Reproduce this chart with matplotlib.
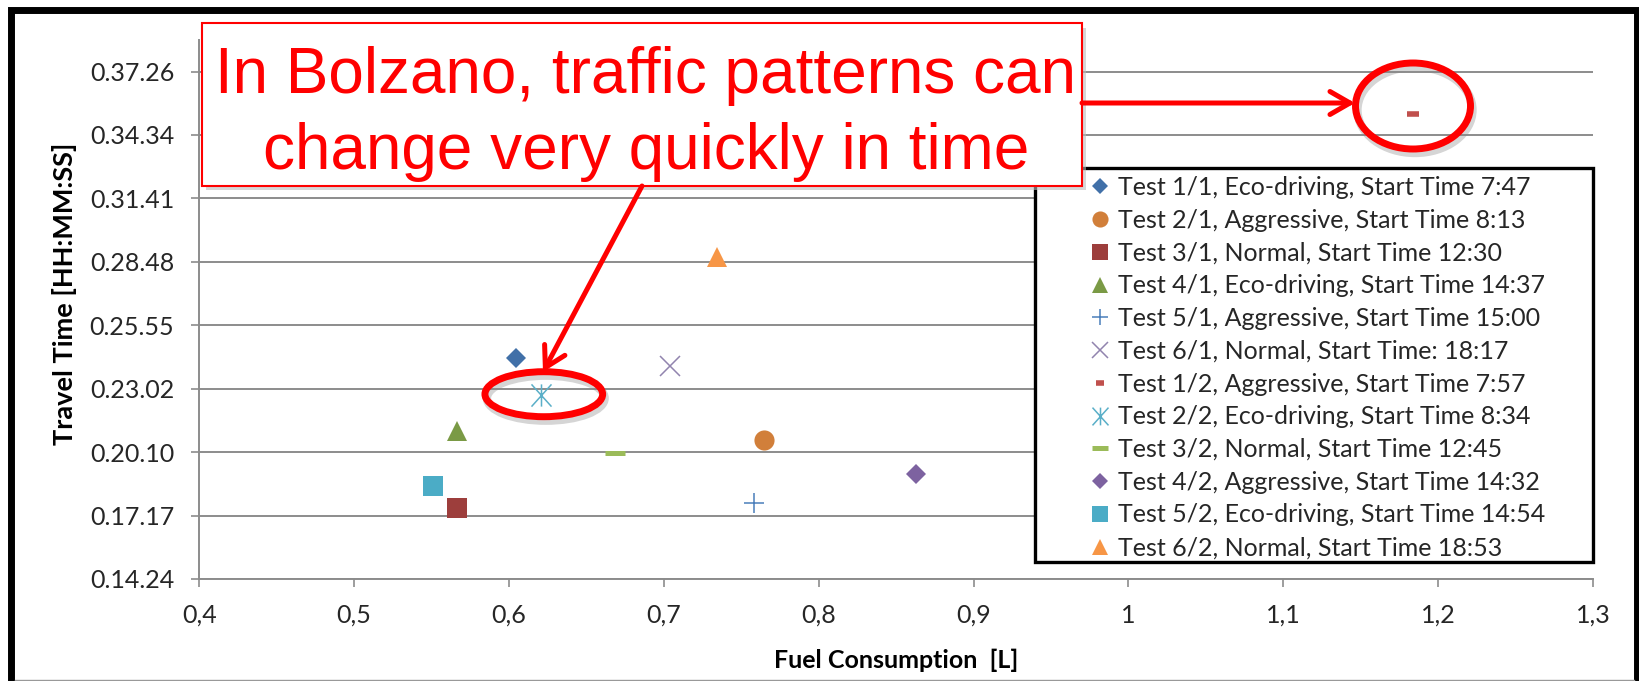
import numpy as np
import matplotlib.pyplot as plt
from matplotlib.patches import Rectangle, Ellipse, FancyArrowPatch
from matplotlib.path import Path

# data
labels = ["Test 1/1, Eco-driving, Start Time 7:47",
          "Test 2/1, Aggressive, Start Time 8:13",
          "Test 3/1, Normal, Start Time 12:30",
          "Test 4/1, Eco-driving, Start Time 14:37",
          "Test 5/1, Aggressive, Start Time 15:00",
          "Test 6/1, Normal, Start Time: 18:17",
          "Test 1/2, Aggressive, Start Time 7:57",
          "Test 2/2, Eco-driving, Start Time 8:34",
          "Test 3/2, Normal, Start Time 12:45",
          "Test 4/2, Aggressive, Start Time 14:32",
          "Test 5/2, Eco-driving, Start Time 14:54",
          "Test 6/2, Normal, Start Time 18:53"]
fuel = [0.6045, 0.7644, 0.5662, 0.5662, 0.7581, 0.7039,
        1.1838, 0.6204, 0.6684, 0.8625, 0.5507, 0.734]
travel = ["24:27", "20:43", "17:38", "21:06", "17:50", "24:05",
          "35:31", "22:46", "20:08", "19:09", "18:38", "29:02"]
y_tick_labels = ["0.14.24", "0.17.17", "0.20.10", "0.23.02", "0.25.55",
                 "0.28.48", "0.31.41", "0.34.34", "0.37.26"]
x_ticks = [0.4, 0.5, 0.6, 0.7, 0.8, 0.9, 1.0, 1.1, 1.2, 1.3]
x_tick_labels = ["0,4", "0,5", "0,6", "0,7", "0,8", "0,9", "1", "1,1", "1,2", "1,3"]
note = ["In Bolzano, traffic patterns can", "change very quickly in time"]


def to_sec(s):
    parts = [float(p) for p in s.replace(".", ":").split(":")]
    sec = 0
    for p in parts:
        sec = sec * 60 + p
    return sec


travel_s = [to_sec(t) for t in travel]
y_ticks = [to_sec(t) for t in y_tick_labels]

asterisk = Path([(0, -1), (0, 1), (-0.9, -1), (0.9, 1), (-0.9, 1), (0.9, -1)],
                [Path.MOVETO, Path.LINETO] * 3)

# marker, size, color, edge width
styles = [("D", 10.5, "#4170A8", 0),
          ("o", 14.5, "#D17F3A", 0),
          ("s", 14.0, "#9D3E3C", 0),
          ("^", 14.5, "#7A9A45", 0),
          ("+", 14.5, "#4A7EBB", 1.1),
          ("x", 15.0, "#9184AE", 1.1),
          ("_", 8.0, "#C0504D", 4.0),
          (asterisk, 16.0, "#5AAFC8", 1.1),
          ("_", 14.5, "#9BBB59", 3.6),
          ("D", 10.5, "#7D62A0", 0),
          ("s", 14.0, "#4BACC6", 0),
          ("^", 14.5, "#F79646", 0)]

W, H = 1640, 681


def fx(x):
    return x / W


def fy(y):
    return 1 - y / H


fig = plt.figure(figsize=(16.4, 6.81), dpi=100)
ax = fig.add_axes([fx(199.3), fy(579), fx(1593) - fx(199.3), fy(40) - fy(579)])

for i in range(len(labels)):
    m, ms, c, mew = styles[i]
    ax.plot([fuel[i]], [travel_s[i]], linestyle="none", marker=m, markersize=ms,
            color=c, markeredgecolor=c, markeredgewidth=mew, label=labels[i], zorder=3)

ax.set_xlim(0.4, 1.3)
ax.set_ylim(864, 0.027 * 86400)
ax.set_xticks(x_ticks)
ax.set_xticklabels(x_tick_labels)
ax.set_yticks(y_ticks)
ax.set_yticklabels(y_tick_labels)
ax.yaxis.grid(True, color="#8c8c8c", lw=1.4)
ax.set_axisbelow(True)
for s in ["top", "right"]:
    ax.spines[s].set_visible(False)
for s in ["left", "bottom"]:
    ax.spines[s].set_color("#8c8c8c")
    ax.spines[s].set_linewidth(1.4)
ax.tick_params(direction="out", length=6, width=1.2, color="#8c8c8c",
               labelsize=18, labelcolor="#262626", pad=12)
for t in ax.get_xticklabels() + ax.get_yticklabels():
    t.set_fontfamily("Lato")

ax.set_xlabel("Fuel Consumption  [L]", fontsize=18, fontweight="bold", family="Lato")
ax.xaxis.set_label_coords(0.5, -0.13)
ax.set_ylabel("Travel Time [HH:MM:SS]", fontsize=19.5, fontweight="bold", family="Lato")
ax.yaxis.set_label_coords(-0.088, 0.529)

# legend box
ax.add_patch(Rectangle((fx(1035), fy(562)), fx(1593) - fx(1035), fy(168) - fy(562),
                       transform=fig.transFigure, facecolor="white", edgecolor="black",
                       lw=2.4, zorder=4.5, clip_on=False))
leg = ax.legend(loc="upper left", bbox_to_anchor=(fx(1090), fy(176)),
                bbox_transform=fig.transFigure, frameon=False, borderaxespad=0,
                borderpad=0, handlelength=0.8, handletextpad=0.32, labelspacing=0.39,
                markerscale=0.8, prop={"family": "Lato", "size": 18})
leg.set_zorder(5)
for t in leg.get_texts():
    t.set_color("#262626")

# outer frame
fig.add_artist(Rectangle((fx(11.5), fy(700)), fx(1637) - fx(11.5), fy(9.5) - fy(700),
                         transform=fig.transFigure, fill=False, edgecolor="black", lw=5))
fig.add_artist(plt.Line2D([fx(15), fx(1634)], [fy(680), fy(680)],
                          transform=fig.transFigure, color="#999999", lw=1))

# callout box
red = "#FF0000"
fig.add_artist(Rectangle((fx(206), fy(190)), fx(1081.7) - fx(201.7), fy(23.3) - fy(185.7),
                         transform=fig.transFigure, facecolor="#bbbbbb", edgecolor="none",
                         alpha=0.6, zorder=6))
fig.add_artist(Rectangle((fx(201.7), fy(185.7)), fx(1081.7) - fx(201.7), fy(23.3) - fy(185.7),
                         transform=fig.transFigure, facecolor="white", edgecolor=red,
                         lw=1.5, zorder=7))
fig.text(fx(645.7), fy(93.3), note[0], color=red, fontsize=46, family="Liberation Sans",
         ha="center", va="baseline", zorder=8)
fig.text(fx(645.7), fy(169.3), note[1], color=red, fontsize=46, family="Liberation Sans",
         ha="center", va="baseline", zorder=8)

# ellipses with soft shadow
for (cx, cy, w, h) in [(1413, 106, 115, 86), (543.8, 394.2, 117.7, 45)]:
    fig.add_artist(Ellipse((fx(cx + 2), fy(cy + 4)), fx(w), fy(0) - fy(h),
                           transform=fig.transFigure, fill=False, edgecolor="#888888",
                           lw=6, alpha=0.35, zorder=6))
    fig.add_artist(Ellipse((fx(cx), fy(cy)), fx(w), fy(0) - fy(h),
                           transform=fig.transFigure, fill=False, edgecolor=red,
                           lw=5, zorder=7))

# arrows
for (x0, y0, x1, y1) in [(1082, 103, 1355, 103), (642, 186, 543, 372)]:
    fig.add_artist(FancyArrowPatch((fx(x0), fy(y0)), (fx(x1), fy(y1)),
                                   transform=fig.transFigure,
                                   arrowstyle="->,head_length=0.4,head_width=0.23",
                                   mutation_scale=36, lw=3.6, color=red,
                                   shrinkA=0, shrinkB=0, zorder=7))

fig.savefig("out.png", dpi=100)
